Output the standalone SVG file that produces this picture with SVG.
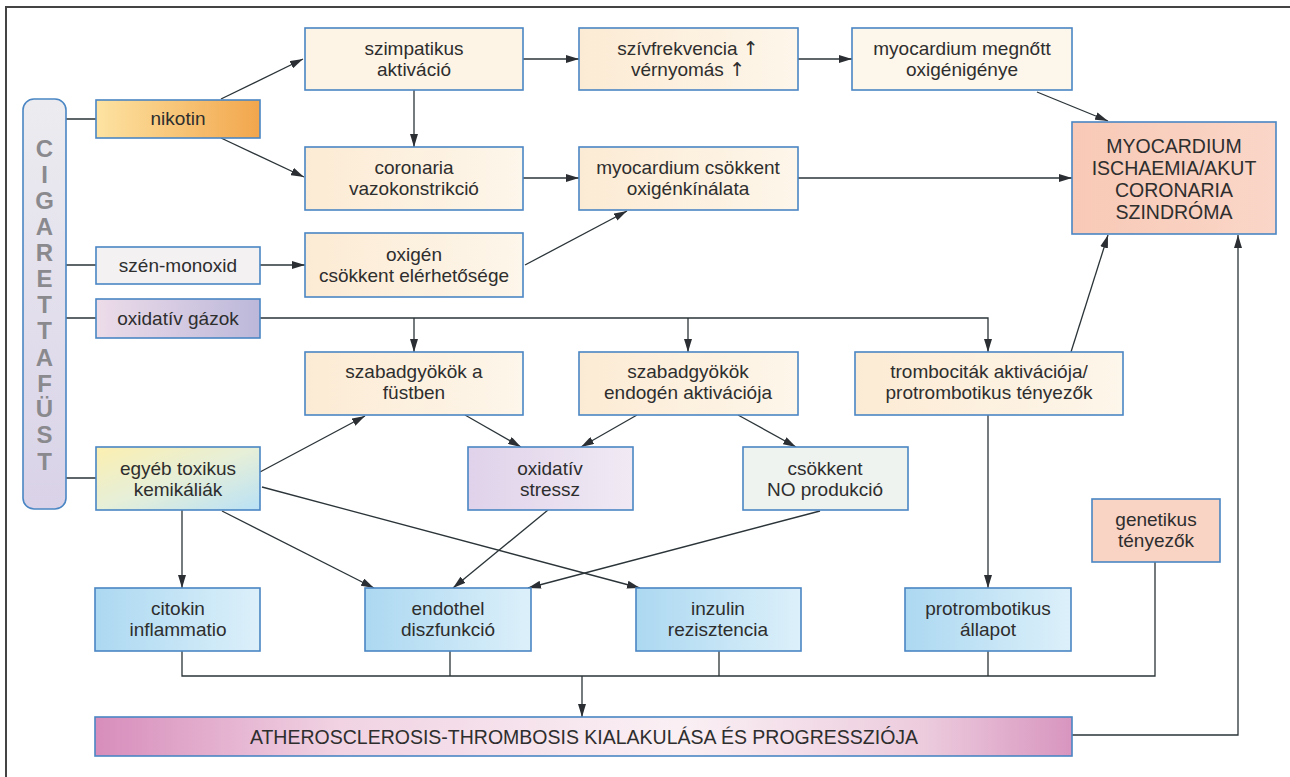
<svg xmlns="http://www.w3.org/2000/svg" width="1290" height="777" viewBox="0 0 1290 777">
<defs>
<linearGradient id="gNik" x1="0" y1="0" x2="1" y2="0"><stop offset="0" stop-color="#fde3a2"/><stop offset="1" stop-color="#f2a64c"/></linearGradient>
<linearGradient id="gOxg" x1="0" y1="0" x2="1" y2="0"><stop offset="0" stop-color="#eddce9"/><stop offset="1" stop-color="#bcb8da"/></linearGradient>
<linearGradient id="gEgy" x1="0" y1="0" x2="1" y2="1"><stop offset="0" stop-color="#fcefb0"/><stop offset="0.5" stop-color="#e6efd8"/><stop offset="1" stop-color="#b9e1f6"/></linearGradient>
<linearGradient id="gCig" x1="0" y1="0" x2="0" y2="1"><stop offset="0" stop-color="#ececf0"/><stop offset="1" stop-color="#d9d2e8"/></linearGradient>
<linearGradient id="gCream" x1="0" y1="0" x2="1" y2="0"><stop offset="0" stop-color="#fcebd4"/><stop offset="1" stop-color="#fdf6ea"/></linearGradient>
<linearGradient id="gBlue" x1="0" y1="0" x2="1" y2="0"><stop offset="0" stop-color="#acd8f1"/><stop offset="1" stop-color="#dcf0fa"/></linearGradient>
<linearGradient id="gStr" x1="0" y1="0" x2="1" y2="0"><stop offset="0" stop-color="#dfd2ea"/><stop offset="1" stop-color="#f1eaf4"/></linearGradient>
<linearGradient id="gMyo" x1="0" y1="0" x2="1" y2="0"><stop offset="0" stop-color="#f8c9b6"/><stop offset="1" stop-color="#fad6c8"/></linearGradient>
<linearGradient id="gAth" x1="0" y1="0" x2="1" y2="0"><stop offset="0" stop-color="#d78dbb"/><stop offset="0.25" stop-color="#f1d3e3"/><stop offset="0.6" stop-color="#faf0f4"/><stop offset="0.85" stop-color="#eccbdd"/><stop offset="1" stop-color="#d895bf"/></linearGradient>
<marker id="ah" viewBox="0 0 13 8" refX="13" refY="4" markerWidth="13" markerHeight="8" markerUnits="userSpaceOnUse" orient="auto"><path d="M0,0 L13,4 L0,8 Z" fill="#2b2f33"/></marker>
</defs>
<style>
.box{stroke:#4a86c4;stroke-width:1.6}
.t{font-family:"Liberation Sans",Arial,sans-serif;font-size:19px;fill:#2e2e2e;text-anchor:middle}
.T{font-family:"Liberation Sans",Arial,sans-serif;font-size:19.5px;fill:#2e2e2e;text-anchor:middle}
.c{font-family:"Liberation Sans",Arial,sans-serif;font-size:24px;font-weight:bold;fill:#8a8a8e;text-anchor:middle}
.up{font-family:"DejaVu Sans",sans-serif;fill:#2e2e2e}
.ln{fill:none;stroke:#2b3438;stroke-width:1.3}
.ar{marker-end:url(#ah)}
</style>
<rect width="1290" height="777" fill="#ffffff"/>
<g id="frame"><path d="M6,777 V7 H1290" fill="none" stroke="#444" stroke-width="2"/></g>

<g id="connectors">
<path class="ln" d="M66,119 H96 M66,265 H96 M66,318 H96 M66,478 H96"/>
<path class="ln ar" d="M221,99 L303,59"/>
<path class="ln ar" d="M221,138 L304,177"/>
<path class="ln ar" d="M414,90 V147"/>
<path class="ln ar" d="M523,59 H579"/>
<path class="ln ar" d="M523,178 H579"/>
<path class="ln ar" d="M260,265 H305"/>
<path class="ln ar" d="M525,265 L627,211"/>
<path class="ln ar" d="M798,59 H852"/>
<path class="ln ar" d="M1037,92 L1108,121"/>
<path class="ln ar" d="M798,178 H1072"/>
<path class="ln ar" d="M260,318 H988 V352"/>
<path class="ln ar" d="M414,318 V352"/>
<path class="ln ar" d="M688,318 V352"/>
<path class="ln ar" d="M1071,352 L1108,235"/>
<path class="ln ar" d="M1072,735 H1238 V235"/>
<path class="ln ar" d="M260,472 L365,416"/>
<path class="ln ar" d="M465,415 L521,447"/>
<path class="ln ar" d="M637,415 L581,447"/>
<path class="ln ar" d="M738,415 L796,447"/>
<path class="ln ar" d="M988,415 V588"/>
<path class="ln ar" d="M182,510 V588"/>
<path class="ln ar" d="M222,511 L374,588"/>
<path class="ln ar" d="M262,487 L640,588"/>
<path class="ln ar" d="M548,510 L453,588"/>
<path class="ln ar" d="M820,511 L528,588"/>
<path class="ln" d="M182,651 V676 H1155 V562 M450,651 V676 M719,651 V676 M988,651 V676"/>
<path class="ln ar" d="M582,676 V717"/>
</g>

<g id="cigarettafust">
<rect x="23" y="99" width="43" height="410" rx="11" fill="url(#gCig)" stroke="#4a86c4" stroke-width="1.6"/>
<text class="c" x="44.5" y="157">C</text>
<text class="c" x="44.5" y="183">I</text>
<text class="c" x="44.5" y="209">G</text>
<text class="c" x="44.5" y="235">A</text>
<text class="c" x="44.5" y="261">R</text>
<text class="c" x="44.5" y="287">E</text>
<text class="c" x="44.5" y="313">T</text>
<text class="c" x="44.5" y="339">T</text>
<text class="c" x="44.5" y="366">A</text>
<text class="c" x="44.5" y="392">F</text>
<text class="c" x="44.5" y="417">Ü</text>
<text class="c" x="44.5" y="443">S</text>
<text class="c" x="44.5" y="470">T</text>
</g>

<g id="nikotin"><rect class="box" x="96" y="100" width="164" height="38" fill="url(#gNik)"/><text class="t" x="178" y="125">nikotin</text></g>
<g id="szenmonoxid"><rect class="box" x="96" y="247" width="164" height="37" fill="#f4f1f3"/><text class="t" x="178" y="272">szén-monoxid</text></g>
<g id="oxidativgazok"><rect class="box" x="96" y="299" width="164" height="39" fill="url(#gOxg)"/><text class="t" x="178" y="325">oxidatív gázok</text></g>
<g id="egyeb"><rect class="box" x="96" y="447" width="164" height="63" fill="url(#gEgy)"/><text class="t" x="178" y="475">egyéb toxikus</text><text class="t" x="178" y="496">kemikáliák</text></g>

<g id="szimpatikus"><rect class="box" x="305" y="28" width="218" height="62" fill="#fdf4e6"/><text class="t" x="414" y="55">szimpatikus</text><text class="t" x="414" y="76">aktiváció</text></g>
<g id="coronaria"><rect class="box" x="305" y="147" width="218" height="63" fill="url(#gCream)"/><text class="t" x="414" y="174">coronaria</text><text class="t" x="414" y="195">vazokonstrikció</text></g>
<g id="oxigen"><rect class="box" x="305" y="233" width="218" height="64" fill="url(#gCream)"/><text class="t" x="414" y="261">oxigén</text><text class="t" x="414" y="282">csökkent elérhetősége</text></g>

<g id="szivfrekvencia"><rect class="box" x="579" y="28" width="219" height="62" fill="url(#gCream)"/><text class="t" x="688" y="55">szívfrekvencia <tspan class="up">↑</tspan></text><text class="t" x="688" y="76">vérnyomás <tspan class="up">↑</tspan></text></g>
<g id="myocsokkent"><rect class="box" x="579" y="147" width="219" height="63" fill="url(#gCream)"/><text class="t" x="688" y="174">myocardium csökkent</text><text class="t" x="688" y="195">oxigénkínálata</text></g>
<g id="myomegnott"><rect class="box" x="852" y="28" width="220" height="62" fill="#fdf6ea"/><text class="t" x="962" y="55">myocardium megnőtt</text><text class="t" x="962" y="76">oxigénigénye</text></g>

<g id="myoischaemia"><rect class="box" x="1072" y="122" width="204" height="112" fill="url(#gMyo)"/>
<text class="T" x="1174" y="153">MYOCARDIUM</text><text class="T" x="1174" y="175">ISCHAEMIA/AKUT</text><text class="T" x="1174" y="197">CORONARIA</text><text class="T" x="1174" y="219">SZINDRÓMA</text></g>

<g id="szabadfust"><rect class="box" x="305" y="352" width="218" height="63" fill="url(#gCream)"/><text class="t" x="414" y="378">szabadgyökök a</text><text class="t" x="414" y="399">füstben</text></g>
<g id="szabadendogen"><rect class="box" x="579" y="352" width="219" height="63" fill="url(#gCream)"/><text class="t" x="688" y="378">szabadgyökök</text><text class="t" x="688" y="399">endogén aktivációja</text></g>
<g id="trombocitak"><rect class="box" x="855" y="352" width="268" height="63" fill="url(#gCream)"/><text class="t" x="989" y="378">trombociták aktivációja/</text><text class="t" x="989" y="399">protrombotikus tényezők</text></g>

<g id="oxidativstressz"><rect class="box" x="468" y="447" width="165" height="63" fill="url(#gStr)"/><text class="t" x="550" y="475">oxidatív</text><text class="t" x="550" y="496">stressz</text></g>
<g id="csokkentno"><rect class="box" x="743" y="447" width="165" height="63" fill="#eff3ef"/><text class="t" x="825" y="475">csökkent</text><text class="t" x="825" y="496">NO produkció</text></g>
<g id="genetikus"><rect class="box" x="1092" y="499" width="128" height="63" fill="#f9d3c3"/><text class="t" x="1156" y="526">genetikus</text><text class="t" x="1156" y="547">tényezők</text></g>

<g id="citokin"><rect class="box" x="95" y="588" width="165" height="63" fill="url(#gBlue)"/><text class="t" x="178" y="615">citokin</text><text class="t" x="178" y="636">inflammatio</text></g>
<g id="endothel"><rect class="box" x="365" y="588" width="166" height="63" fill="url(#gBlue)"/><text class="t" x="448" y="615">endothel</text><text class="t" x="448" y="636">diszfunkció</text></g>
<g id="inzulin"><rect class="box" x="636" y="588" width="165" height="63" fill="url(#gBlue)"/><text class="t" x="718" y="615">inzulin</text><text class="t" x="718" y="636">rezisztencia</text></g>
<g id="protrombotikus"><rect class="box" x="905" y="588" width="166" height="63" fill="url(#gBlue)"/><text class="t" x="988" y="615">protrombotikus</text><text class="t" x="988" y="636">állapot</text></g>

<g id="atherosclerosis"><rect class="box" x="95" y="717" width="977" height="39" fill="url(#gAth)"/><text class="T" x="584" y="744">ATHEROSCLEROSIS-THROMBOSIS KIALAKULÁSA ÉS PROGRESSZIÓJA</text></g>
</svg>
